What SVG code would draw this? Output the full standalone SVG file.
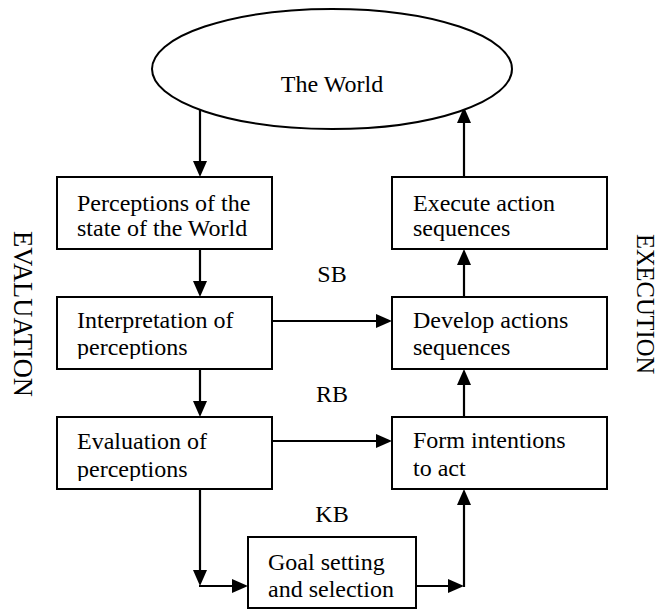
<svg xmlns="http://www.w3.org/2000/svg" width="661" height="609" viewBox="0 0 661 609">
<style>
.n{fill:#fff;stroke:#000;stroke-width:2}
.t{font-family:"Liberation Serif","Times New Roman",serif;font-size:24px;fill:#000}
.v{font-family:"Liberation Serif","Times New Roman",serif;fill:#000;text-anchor:middle}
.c{stroke:#000;stroke-width:2.2;fill:none;marker-end:url(#ah)}
.m{text-anchor:middle}
</style>
<defs>
<marker id="ah" markerUnits="userSpaceOnUse" markerWidth="16" markerHeight="14" refX="8" refY="7" orient="auto">
<path d="M0,0 L16,7 L0,14 z" fill="#000"/>
</marker>
<clipPath id="cp1"><rect x="57" y="297" width="215" height="62"/></clipPath>
<clipPath id="cp2"><rect x="57" y="417" width="215" height="64"/></clipPath>
</defs>
<rect width="661" height="609" fill="#fff"/>
<g id="connectors">
<line class="c" x1="200" y1="104" x2="200" y2="169"/>
<line class="c" x1="464" y1="177" x2="464" y2="115"/>
<line class="c" x1="200" y1="249" x2="200" y2="289"/>
<line class="c" x1="464" y1="297" x2="464" y2="257"/>
<line class="c" x1="272" y1="321" x2="384" y2="321"/>
<line class="c" x1="200" y1="369" x2="200" y2="409"/>
<line class="c" x1="464" y1="417" x2="464" y2="377"/>
<line class="c" x1="272" y1="441" x2="384" y2="441"/>
<line class="c" x1="200" y1="489" x2="200" y2="578"/>
<line class="c" x1="199" y1="586" x2="240" y2="586"/>
<line class="c" x1="416" y1="586" x2="456" y2="586"/>
<line class="c" x1="464" y1="587" x2="464" y2="497"/>
</g>
<g id="world">
<ellipse class="n" cx="332" cy="69" rx="180" ry="60"/>
<text class="t m" x="332" y="92">The World</text>
</g>
<g id="perceptions">
<rect class="n" x="57" y="177" width="215" height="72"/>
<text class="t" x="77" y="211">Perceptions of the</text>
<text class="t" x="77" y="236">state of the World</text>
</g>
<g id="execute">
<rect class="n" x="392" y="177" width="215" height="72"/>
<text class="t" x="413" y="211">Execute action</text>
<text class="t" x="413" y="236">sequences</text>
</g>
<g id="interpretation">
<rect class="n" x="57" y="297" width="215" height="72"/>
<g clip-path="url(#cp1)">
<text class="t" x="77" y="328">Interpretation of</text>
<text class="t" x="77" y="355">perceptions</text>
</g>
</g>
<g id="develop">
<rect class="n" x="392" y="297" width="215" height="72"/>
<text class="t" x="413" y="328">Develop actions</text>
<text class="t" x="413" y="355">sequences</text>
</g>
<g id="evaluation">
<rect class="n" x="57" y="417" width="215" height="72"/>
<g clip-path="url(#cp2)">
<text class="t" x="77" y="449">Evaluation of</text>
<text class="t" x="77" y="477">perceptions</text>
</g>
</g>
<g id="form">
<rect class="n" x="392" y="417" width="215" height="72"/>
<text class="t" x="413" y="448">Form intentions</text>
<text class="t" x="413" y="476">to act</text>
</g>
<g id="goal">
<rect class="n" x="248" y="537" width="168" height="71"/>
<text class="t" x="268" y="570">Goal setting</text>
<text class="t" x="268" y="597">and selection</text>
</g>
<g id="labels">
<text class="t m" x="332" y="282">SB</text>
<text class="t m" x="332" y="402">RB</text>
<text class="t m" x="332" y="522">KB</text>
<text class="v" font-size="26.5" transform="translate(14,314) rotate(90)">EVALUATION</text>
<text class="v" font-size="24.5" transform="translate(637,304) rotate(90)">EXECUTION</text>
</g>
</svg>
